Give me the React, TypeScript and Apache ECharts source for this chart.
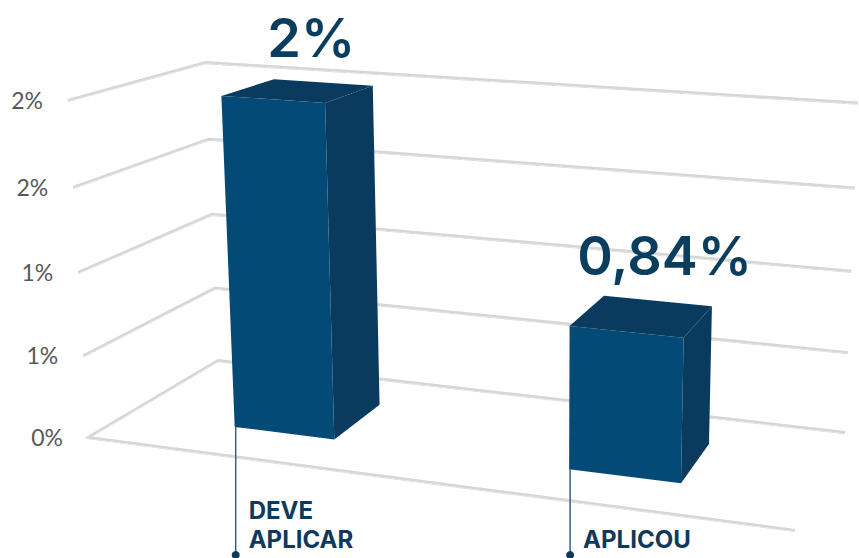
import React, { useEffect, useRef } from "react";
import * as echarts from "echarts";

// ---- data ----
const categories = ["DEVE\nAPLICAR", "APLICOU"];
const values = [2, 0.84];
const valueLabels = ["2%", "0,84%"];
const tickValues = [0, 0.5, 1, 1.5, 2];
const tickLabels = ["0%", "1%", "1%", "2%", "2%"];

// ---- layout / style ----
const AXIS_MAX = 2;
const BAR_FRAC = 0.31;
const Z_FRONT = 0.28;
const Z_BACK = 0.7;
const FRONT_COLOR = "#034a76";
const SIDE_COLOR = "#0a3b5f";
const TEXT_NAVY = "#0b3d5f";
const GRID_COLOR = "#d6d6d6";

// perspective projection of world (X across, H up, Z depth) into the page
function proj(X: number, H: number, Z: number): number[] {
  const xh = 616.4 * X - 22.86 * H + 159.8 * Z + 88;
  const yh = 32.6 * X - 341.2 * H - 27.75 * Z + 437;
  const w = -0.114 * X - 0.042 * H + 0.1367 * Z + 1;
  return [xh / w, yh / w];
}

export default function App() {
  const ref = useRef<HTMLDivElement>(null);
  useEffect(() => {
    if (!ref.current) return;
    const chart = echarts.init(ref.current, undefined, { renderer: "svg" });

    const toX = (cs: any, px: number) => (px - cs.x) / cs.width;
    const toH = (cs: any, py: number) => (cs.y + cs.height - py) / cs.height;

    const gridRender = (params: any, api: any) => {
      const cs = params.coordSys;
      const v = api.value(1);
      const idx = params.dataIndex;
      const H = toH(cs, api.coord([0, v])[1]);
      const a = proj(0, H, 0);
      const b = proj(0, H, 1);
      const c = proj(1, H, 1);
      const pts = v === 0 ? [proj(1, H, 0), a, b, c] : [a, b, c];
      return {
        type: "group",
        children: [
          {
            type: "polyline",
            shape: { points: pts },
            style: {
              stroke: GRID_COLOR,
              lineWidth: 2.2,
              fill: "none",
              shadowBlur: 1.5,
              shadowColor: "rgba(0,0,0,0.18)",
              shadowOffsetY: 0.8,
            },
          },
          {
            type: "text",
            x: a[0] - 25,
            y: a[1],
            style: {
              text: tickLabels[idx],
              fill: "#595959",
              fontFamily: "Lato",
              fontSize: 23,
              align: "right",
              verticalAlign: "middle",
            },
          },
        ],
      };
    };

    const barRender = (params: any, api: any) => {
      const cs = params.coordSys;
      const idx = api.value(0);
      const v = api.value(1);
      const top = api.coord([idx, v]);
      const base = api.coord([idx, 0]);
      const band = api.size([1, 0])[0];
      const xc = toX(cs, top[0]);
      const hw = (band * BAR_FRAC) / 2 / cs.width;
      const x0 = xc - hw;
      const x1 = xc + hw;
      const h = toH(cs, top[1]);
      const hb = toH(cs, base[1]);
      const fbl = proj(x0, hb, Z_FRONT);
      const fbr = proj(x1, hb, Z_FRONT);
      const ftl = proj(x0, h, Z_FRONT);
      const ftr = proj(x1, h, Z_FRONT);
      const bbr = proj(x1, hb, Z_BACK);
      const btr = proj(x1, h, Z_BACK);
      const btl = proj(x0, h, Z_BACK);
      const lbl = proj(xc, h, Z_BACK);
      const labelX = (ftl[0] + ftr[0]) / 2 + 38;
      const lineBottom = 555;
      return {
        type: "group",
        children: [
          {
            type: "polygon",
            shape: { points: [fbr, bbr, btr, ftr] },
            style: { fill: SIDE_COLOR },
          },
          {
            type: "polygon",
            shape: { points: [ftl, ftr, btr, btl] },
            style: { fill: SIDE_COLOR },
          },
          {
            type: "polygon",
            shape: { points: [fbl, fbr, ftr, ftl] },
            style: { fill: FRONT_COLOR },
          },
          {
            type: "line",
            shape: { x1: fbl[0] + 1, y1: fbl[1], x2: fbl[0] + 1, y2: lineBottom },
            style: { stroke: "#3a6283", lineWidth: 1.5 },
          },
          {
            type: "circle",
            shape: { cx: fbl[0] + 1, cy: lineBottom, r: 4 },
            style: { fill: "#0d3a5c" },
          },
          {
            type: "text",
            x: fbl[0] + 14,
            y: lineBottom - 1,
            style: {
              text: categories[idx],
              fill: "#0d3a5c",
              fontFamily: "Inter",
              fontWeight: 700,
              fontSize: 24,
              lineHeight: 29,
              align: "left",
              verticalAlign: "bottom",
            },
          },
          {
            type: "text",
            x: labelX,
            y: lbl[1] - 45,
            style: {
              text: valueLabels[idx],
              fill: TEXT_NAVY,
              fontFamily: "Inter",
              fontWeight: 600,
              fontSize: 54,
              lineHeight: 48,
              align: "center",
              verticalAlign: "middle",
            },
          },
        ],
      };
    };

    chart.setOption({
      animation: false,
      grid: { left: 0, right: 0, top: 0, bottom: 0, containLabel: false },
      xAxis: { type: "category", data: categories, show: false },
      yAxis: { type: "value", min: 0, max: AXIS_MAX, interval: 0.5, show: false },
      series: [
        {
          type: "custom",
          renderItem: gridRender,
          data: tickValues.map((v) => [0, v]),
          encode: { x: 0, y: 1 },
          clip: false,
          z: 1,
          silent: true,
        },
        {
          type: "custom",
          renderItem: barRender,
          data: values.map((v, i) => [i, v]),
          encode: { x: 0, y: 1 },
          clip: false,
          z: 2,
          silent: true,
        },
      ],
    });
    return () => chart.dispose();
  }, []);
  return (
    <div
      ref={ref}
      style={{ position: "fixed", left: 0, top: 0, width: 859, height: 558, background: "#fff" }}
    />
  );
}
